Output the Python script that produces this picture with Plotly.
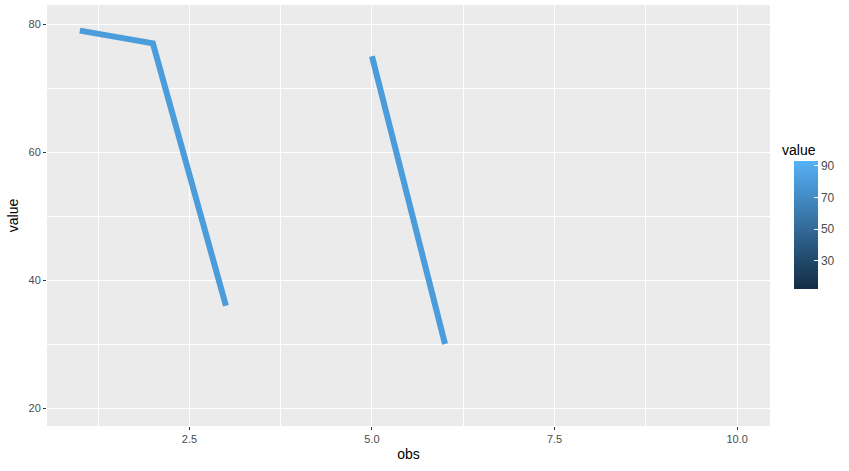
import plotly.graph_objects as go

obs = [1, 2, 3, 4, 5, 6, 7, 8, 9, 10]
value = [79, 77, 36, None, 75, 30, None, None, None, None]
color_min, color_max = 12, 93
x_ticks = [2.5, 5.0, 7.5, 10.0]
x_tick_labels = ["2.5", "5.0", "7.5", "10.0"]
y_ticks = [20, 40, 60, 80]
cb_ticks = [30, 50, 70, 90]

scale = [[0, "#132B43"], [1, "#56B1F7"]]

fig = go.Figure()
fig.add_trace(go.Scatter(
    x=obs, y=value, mode="lines", connectgaps=False,
    line=dict(color="#4B9CDA", width=6), showlegend=False, hoverinfo="skip"))
fig.add_trace(go.Scatter(
    x=[None], y=[None], mode="markers", showlegend=False,
    marker=dict(color=[color_min, color_max], cmin=color_min, cmax=color_max,
                colorscale=scale, showscale=True,
                colorbar=dict(
                    xref="container", yref="container", x=794/849, xanchor="left",
                    y=1-252/471, yanchor="middle", len=128, lenmode="pixels",
                    xpad=0, ypad=0,
                    thickness=24, outlinewidth=0, tickvals=cb_ticks,
                    ticks="inside", ticklen=4, tickcolor="white",
                    tickfont=dict(size=12, color="#4D4D4D")))))

fig.add_annotation(text="value", xref="paper", yref="paper",
                   x=(780 - 47) / 723, y=1 - (150 - 5) / 421,
                   xanchor="left", yanchor="middle", showarrow=False,
                   font=dict(size=14, color="#000000"))

font = "Liberation Sans, Arial, sans-serif"
fig.update_layout(
    width=849, height=471, margin=dict(l=47, r=79, t=5, b=45),
    paper_bgcolor="white", plot_bgcolor="#EBEBEB",
    font=dict(family=font),
    xaxis=dict(range=[0.55, 10.45], tickvals=x_ticks, ticktext=x_tick_labels,
               showgrid=True, gridcolor="white", gridwidth=1.4, zeroline=False,
               ticks="outside", ticklen=3, tickcolor="#333333",
               tickfont=dict(size=11, color="#4D4D4D"),
               minor=dict(tick0=1.25, dtick=2.5, showgrid=True, gridcolor="white", gridwidth=0.7),
               title=dict(text="obs", font=dict(size=14, color="#000000"), standoff=4)),
    yaxis=dict(range=[17.2, 83.0], tickvals=y_ticks,
               showgrid=True, gridcolor="white", gridwidth=1.4, zeroline=False,
               ticks="outside", ticklen=3, tickcolor="#333333",
               tickfont=dict(size=11, color="#4D4D4D"),
               minor=dict(tick0=10, dtick=20, showgrid=True, gridcolor="white", gridwidth=0.7),
               title=dict(text="value", font=dict(size=14, color="#000000"), standoff=6)),
)
fig.write_html("out.html", config={"displayModeBar": False},
               post_script="document.body.style.margin='0';")
